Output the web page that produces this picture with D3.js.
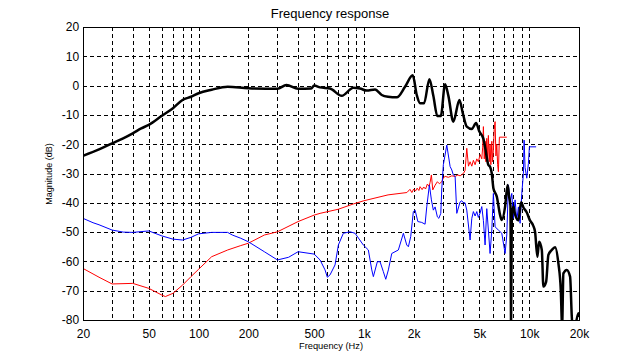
<!DOCTYPE html>
<html>
<head>
<meta charset="utf-8">
<script src="https://cdn.jsdelivr.net/npm/d3@7"></script>
<style>
body { margin: 0; background: #fff; }
text { font-family: Arial, "Liberation Sans", sans-serif; fill: #000; }
</style>
</head>
<body>
<svg id="chart" width="640" height="360"></svg>
<script>
// frequency (Hz) / magnitude (dB) for each trace
var blackFreq = [20, 25, 30, 35, 40, 45, 50, 60, 70, 80, 90, 100, 120, 150, 200, 300, 340, 400, 480, 500,
	543, 624, 735, 863, 948, 1041, 1168, 1282, 1400, 1581, 1774, 1975, 2088, 2186, 2312, 2490, 2630, 2782, 2918,
	3098, 3244, 3476, 3782, 3964, 4190, 4494, 4770, 4994, 5282, 5408, 5662, 5796, 5938, 6070, 6366, 6666,
	6824, 7146, 7400, 7560, 7700, 7766, 7844, 8020, 8212, 8600, 8928, 9222, 9666, 10100, 10550, 10852,
	11206, 11472, 11914, 12180, 12648, 13060, 13690, 14336, 15012, 15522, 15808, 16094, 16868, 17664,
	18092, 18494, 19834, 20000];
var blackDb = [-24, -21.8, -19.7, -18, -16.3, -14.6, -13.4, -10.3, -7.7, -4.9, -3.8, -2.6, -1.4, -0.4, -0.9, -1.1, 0.2, -1.1, -1, 0,
	-0.6, -1, -3.5, -0.7, -1, -1.7, -1.3, -3.2, -3.8, -4, -0.4, 3.5, -3.2, -6, -6, 2.2, -3.5, -10.4, -10.4,
	0.5, -3.5, -12.3, -4.9, -9.4, -14, -14.8, -12.8, -15.7, -18.2, -21, -27.1, -27.7, -30, -35, -37.9, -44.2,
	-45.9, -41.3, -33.9, -38, -41, -82, -45, -41.3, -44, -46, -39.8, -41.6, -43.3, -46, -47.7, -50,
	-58.4, -53.3, -56.1, -68.6, -67, -57.8, -56.1, -55.2, -60.7, -69.8, -82, -64.1, -62.9, -65.2,
	-78.9, -85, -77.7, -79];

var redFreq = [20, 25, 30, 40, 50, 60, 63, 70, 80, 90, 100, 120, 150, 180, 200, 250, 300, 400, 500, 543,
	700, 863, 1000, 1400, 1820, 1900, 1950, 2000, 2050, 2100, 2150, 2186, 2250, 2300, 2360, 2420, 2480,
	2514, 2560, 2610, 2696, 2782, 2862, 2958, 3024, 3100, 3244, 3400, 3562, 3700, 3818, 3996, 4092,
	4190, 4290, 4388, 4494, 4594, 4706, 4816, 4926, 5044, 5164, 5230, 5282, 5345, 5408, 5470, 5536,
	5600, 5662, 5730, 5796, 5860, 5938, 6000, 6070, 6140, 6216, 6290, 6366, 6440, 6510, 6580, 6600, 7316];
var redDb = [-62.4, -65.4, -67.7, -67.5, -69.2, -71.5, -72, -70.9, -68.1, -65.2, -62.7, -58.4, -56.1, -54.6, -53.8, -51, -49.9, -46.4, -44.2, -43.6,
	-42.2, -40.4, -39.3, -37.3, -36.5, -35.4, -36.5, -35.3, -36, -35, -35.8, -34.5, -35.5, -34.6, -35.3, -33.6, -34.4,
	-33, -30.5, -35.6, -34, -32.8, -33.5, -32.8, -31.5, -31, -31.3, -30.8, -31, -30.5, -30.8, -30, -29,
	-21.4, -27.5, -26, -27.5, -25.5, -27, -25, -26, -23.5, -25, -21, -14, -25, -19, -26, -18,
	-25, -17, -26, -20, -27, -19, -26, -22, -15, -12.3, -24, -20, -27, -29.4, -20, -17.6, -17.6];

var blueFreq = [20, 23, 25, 30, 35, 40, 50, 60, 70, 80, 90, 100, 120, 150, 160, 180, 200, 250, 300, 350, 400, 500,
	543, 582, 601, 624, 669, 701, 751, 825, 884, 992, 1064, 1116, 1141, 1206, 1252, 1311, 1356, 1406, 1474,
	1616, 1733, 1816, 1858, 1920, 1991, 2040, 2120, 2238, 2344, 2400, 2490, 2560, 2630, 2696, 2782, 2840,
	2918, 2958, 3024, 3172, 3322, 3402, 3476, 3562, 3646, 3818, 3908, 3996, 4092, 4190, 4388, 4494, 4594,
	4706, 4816, 4926, 5044, 5164, 5282, 5408, 5536, 5662, 5796, 5938, 6070, 6216, 6510, 6824, 7146, 7316,
	7482, 7660, 7844, 8020, 8212, 8410, 8600, 8806, 9016, 9222, 9310, 9440, 9666, 9886, 10024, 11006];
var blueDb = [-45.3, -46.8, -47.5, -49.3, -50, -50.1, -49.6, -51.3, -52.4, -52.7, -51.8, -50.6, -50.1, -50.1, -51, -52.1, -53.3, -56.7, -59.5, -58.6, -56.7, -57.5,
	-59.5, -62.9, -65.4, -64.6, -61.2, -54.4, -50.4, -49.9, -50.4, -54.4, -56.1, -62.9, -65.2, -60.1, -60.1, -63.5, -66.1, -62.9, -57.3,
	-56.1, -50.4, -54.4, -55, -51.5, -43, -42.5, -46.4, -46.7, -47.3, -41.4, -33.9, -39, -42.5, -41.4, -44.8, -45.3,
	-43.6, -35.3, -27, -20.3, -27.6, -28.8, -30.5, -31, -43.6, -39.7, -39.3, -40, -40, -42.5, -52.7, -45.3, -43,
	-44.5, -43, -45, -43.5, -41.3, -46, -54.4, -42, -49.3, -57.3, -49.3, -36.8, -48.2, -49.3, -50.4, -57.3, -51,
	-33.9, -39.8, -36.8, -45.3, -39, -46, -41.4, -47, -36.8, -30, -18.6, -28, -31.6, -26.6, -20.9, -20.9];

var gridFreqs = [20, 30, 40, 50, 60, 70, 80, 90, 100, 200, 300, 400, 500, 600, 700, 800, 900,
	1000, 2000, 3000, 4000, 5000, 6000, 7000, 8000, 9000, 10000];
var freqLabels = [20, 50, 100, 200, 500, 1000, 2000, 5000, 10000, 20000];
var dbTicks = [20, 10, 0, -10, -20, -30, -40, -50, -60, -70, -80];

var margin = {top: 27, right: 61, bottom: 40, left: 83};
var width = 640 - margin.left - margin.right,
	height = 360 - margin.top - margin.bottom;

var x = d3.scaleLog().domain([20, 20000]).range([0, width]);
var y = d3.scaleLinear().domain([-80, 20]).range([height, 0]);

function fmtFreq(f) {
	return f >= 1000 ? (f / 1000) + "k" : "" + f;
}

function zipSeries(freqs, dbs) {
	return freqs.map(function(f, i) { return [f, dbs[i]]; });
}

function drawChart() {
	var svg = d3.select("#chart");
	svg.append("rect").attr("width", 640).attr("height", 360).attr("fill", "#fff");

	svg.append("defs").append("clipPath").attr("id", "plotclip")
		.append("rect").attr("width", width).attr("height", height);

	var g = svg.append("g").attr("transform", "translate(" + margin.left + "," + margin.top + ")");

	// dashed grid
	g.selectAll("line.vgrid").data(gridFreqs).enter().append("line")
		.attr("class", "vgrid")
		.attr("x1", function(d) { return Math.round(x(d)) + 0.5; })
		.attr("x2", function(d) { return Math.round(x(d)) + 0.5; })
		.attr("y1", 0).attr("y2", height)
		.attr("stroke", "#000").attr("stroke-dasharray", "4,3");
	g.selectAll("line.hgrid").data(dbTicks).enter().append("line")
		.attr("class", "hgrid")
		.attr("y1", function(d) { return Math.round(y(d)) + 0.5; })
		.attr("y2", function(d) { return Math.round(y(d)) + 0.5; })
		.attr("x1", 0).attr("x2", width)
		.attr("stroke", "#000").attr("stroke-dasharray", "4,3");

	var line = d3.line()
		.x(function(d) { return x(d[0]); })
		.y(function(d) { return y(d[1]); });
	var smoothLine = d3.line()
		.curve(d3.curveMonotoneX)
		.x(function(d) { return x(d[0]); })
		.y(function(d) { return y(d[1]); });

	var traces = g.append("g").attr("clip-path", "url(#plotclip)");
	traces.append("path").datum(zipSeries(redFreq, redDb))
		.attr("d", line).attr("fill", "none").attr("stroke", "#ff0000").attr("stroke-width", 1);
	traces.append("path").datum(zipSeries(blueFreq, blueDb))
		.attr("d", line).attr("fill", "none").attr("stroke", "#0000ff").attr("stroke-width", 1);
	traces.append("path").datum(zipSeries(blackFreq, blackDb))
		.attr("d", smoothLine).attr("fill", "none").attr("stroke", "#000").attr("stroke-width", 2.5)
		.attr("stroke-linejoin", "round");

	// frame
	g.append("rect").attr("x", 0.5).attr("y", 0.5)
		.attr("width", width).attr("height", height)
		.attr("fill", "none").attr("stroke", "#000");

	// tick labels
	var xAxis = d3.axisBottom(x).tickValues(freqLabels).tickFormat(fmtFreq).tickSize(0).tickPadding(9);
	var xg = g.append("g").attr("transform", "translate(0," + height + ")").call(xAxis);
	var yAxis = d3.axisLeft(y).tickValues(dbTicks).tickFormat(d3.format("d")).tickSize(0).tickPadding(5);
	var yg = g.append("g").call(yAxis);
	[xg, yg].forEach(function(a) {
		a.select(".domain").remove();
		a.selectAll("text").attr("font-size", 12).attr("font-family", "Arial, 'Liberation Sans', sans-serif");
	});
	yg.selectAll("text").attr("dx", "0.1em").text(function(d) { return d < 0 ? "-" + (-d) : d; });

	svg.append("text").attr("x", 330).attr("y", 18).attr("text-anchor", "middle")
		.attr("font-size", 13).text("Frequency response");
	svg.append("text").attr("x", 331).attr("y", 349).attr("text-anchor", "middle")
		.attr("font-size", 9.3).text("Frequency (Hz)");
	svg.append("text").attr("transform", "translate(52,174) rotate(-90)").attr("text-anchor", "middle")
		.attr("font-size", 9).text("Magnitude (dB)");
}

drawChart();
</script>
</body>
</html>
